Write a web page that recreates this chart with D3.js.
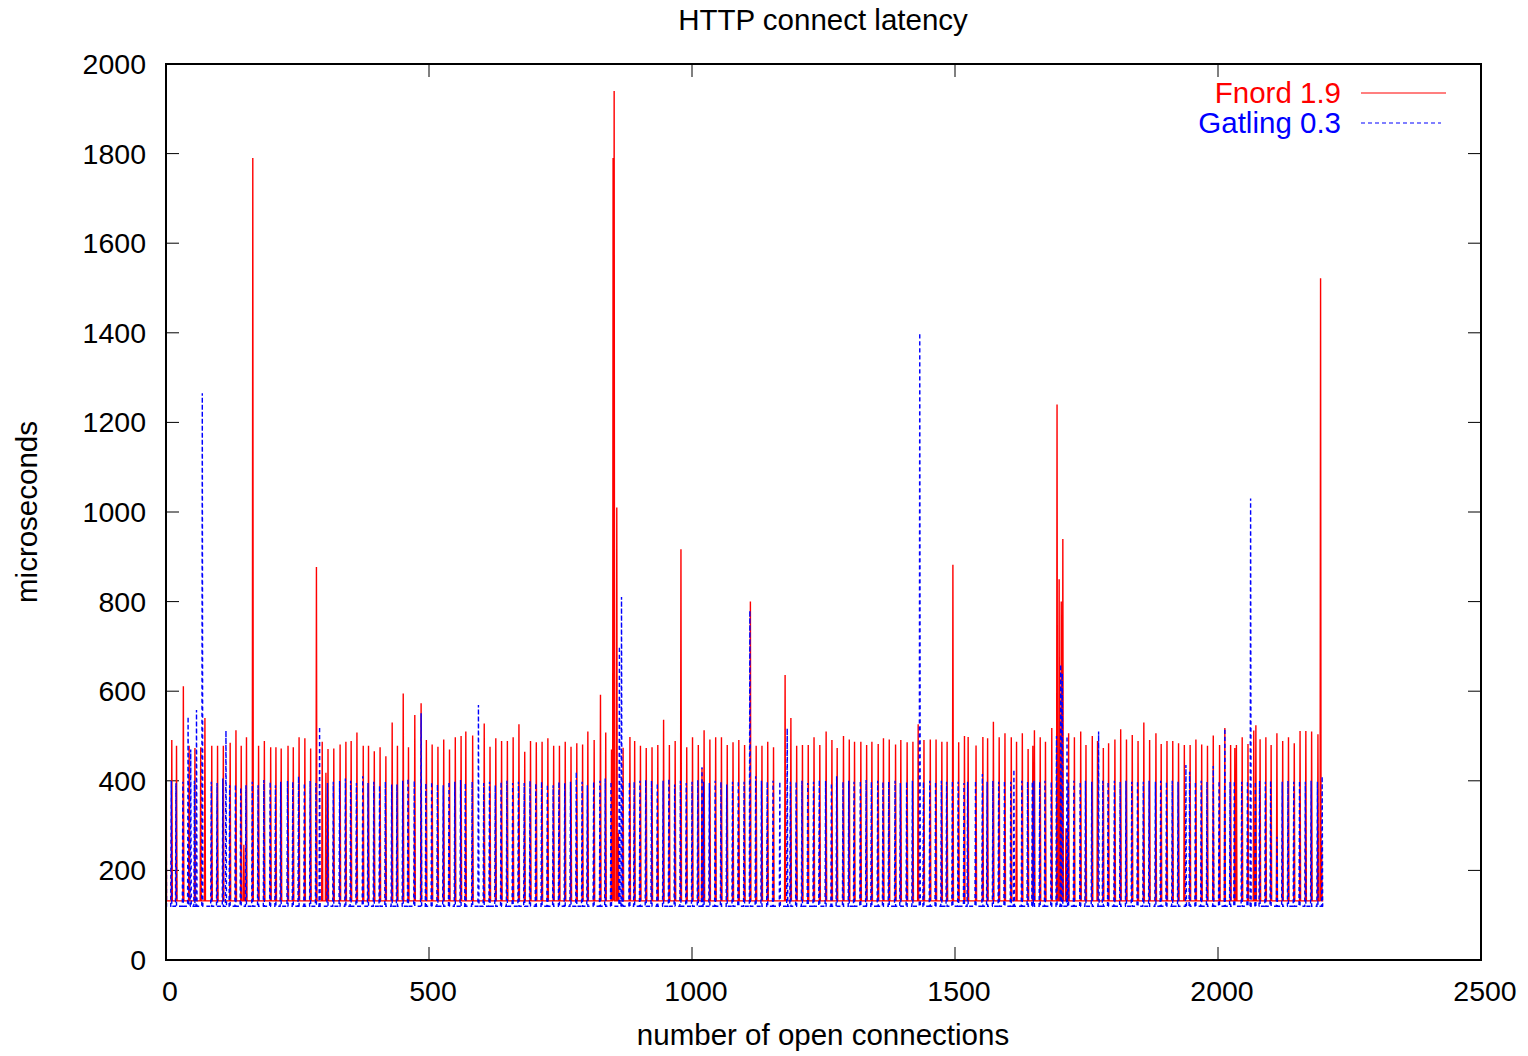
<!DOCTYPE html>
<html>
<head>
<meta charset="utf-8">
<script src="https://cdn.jsdelivr.net/npm/d3@7"></script>
<style>
    body { margin: 0; background: #fff; }
    text { font-family: "Liberation Sans", Arial, sans-serif; fill: #000; }
</style>
</head>
<body>
<div id="chart"></div>
<script>
// Tick values
const xTicks = [0, 500, 1000, 1500, 2000, 2500];
const yTicks = [0, 200, 400, 600, 800, 1000, 1200, 1400, 1600, 1800, 2000];

// Series names
const seriesNames = ["Fnord 1.9", "Gatling 0.3"];

// Floor level of each series (microseconds)
const fnordBase = 132;
const gatlingBase = 120;

// Fnord 1.9 spikes: open connections / peak latency
const fnordX = [0, 11, 20, 33, 44, 55, 66, 74, 87, 98, 109, 122, 133, 143, 148, 153, 165, 176, 187, 199, 209,
    219, 232, 242, 253, 264, 275, 286, 297, 304, 308, 319, 331, 342, 352, 363, 375, 385, 396, 407, 418, 430,
    440, 451, 461, 473, 485, 495, 506, 517, 528, 539, 550, 561, 570, 583, 605, 616, 627, 638, 649, 660,
    671, 682, 693, 704, 715, 726, 737, 748, 759, 770, 781, 792, 802, 814, 826, 836, 847, 850, 852, 857, 860, 869, 882,
    891, 902, 913, 924, 935, 946, 957, 968, 979, 990, 1001, 1012, 1019, 1023, 1034, 1045, 1056, 1067, 1078, 1089, 1100,
    1111, 1122, 1133, 1144, 1155, 1177, 1188, 1199, 1210, 1221, 1232, 1243, 1255, 1266, 1276, 1288, 1299, 1309, 1321, 1332,
    1342, 1354, 1364, 1375, 1387, 1397, 1409, 1420, 1430, 1441, 1453, 1464, 1475, 1485, 1496, 1507, 1518, 1525, 1540, 1553,
    1562, 1573, 1584, 1595, 1607, 1617, 1628, 1639, 1648, 1651, 1662, 1672, 1684, 1694, 1698, 1702, 1705, 1711, 1716, 1727, 1739, 1749, 1761, 1771, 1782,
    1792, 1804, 1815, 1826, 1837, 1848, 1859, 1870, 1882, 1892, 1903, 1914, 1925, 1936, 1947, 1958, 1969, 1980, 1991, 2003,
    2013, 2024, 2032, 2035, 2046, 2057, 2068, 2072, 2080, 2091, 2101, 2112, 2123, 2134, 2145, 2156, 2167, 2178, 2190, 2195, 2197];
const fnordPeak = [804, 491, 478, 611, 478, 473, 475, 540, 478, 478, 478, 485, 513, 478, 257, 497, 1790, 478, 489, 475, 475,
    472, 478, 475, 497, 495, 472, 877, 487, 418, 471, 472, 481, 487, 489, 508, 478, 478, 466, 475, 455, 530,
    478, 595, 475, 547, 573, 491, 481, 476, 492, 470, 497, 500, 510, 501, 528, 476, 495, 489, 489, 497,
    526, 465, 489, 486, 487, 495, 478, 478, 487, 476, 484, 481, 510, 491, 592, 508, 470, 1790, 1940, 1010, 283, 474, 498,
    489, 478, 473, 475, 480, 536, 480, 489, 917, 475, 497, 480, 428, 513, 492, 497, 497, 480, 486, 491, 480,
    800, 478, 478, 487, 475, 636, 540, 478, 480, 480, 497, 480, 510, 491, 473, 500, 492, 487, 487, 480,
    487, 482, 495, 492, 481, 491, 486, 487, 526, 491, 492, 492, 487, 487, 882, 486, 500, 498, 479, 498,
    495, 532, 497, 506, 497, 487, 506, 471, 478, 513, 497, 487, 518, 1240, 850, 800, 940, 294, 506, 497, 510, 480, 500, 489, 473,
    484, 492, 515, 492, 502, 489, 530, 491, 506, 482, 489, 489, 484, 480, 480, 492, 481, 478, 501, 480,
    518, 480, 473, 480, 497, 482, 512, 524, 493, 497, 480, 506, 489, 497, 484, 511, 511, 510, 504, 1522, 257];

// Gatling 0.3 spikes: open connections / peak latency
const gatlingX = [0, 10, 19, 32, 42, 47, 54, 58, 69, 86, 97, 108, 114, 121, 132, 142, 152, 164, 175, 186, 198, 208,
    218, 231, 241, 252, 263, 274, 285, 292, 307, 318, 330, 341, 351, 362, 374, 384, 395, 406, 417, 429,
    439, 450, 460, 472, 485, 494, 505, 516, 527, 538, 549, 560, 569, 582, 594, 604, 615, 626, 637, 648, 659,
    670, 681, 692, 703, 714, 725, 736, 747, 758, 769, 780, 791, 801, 813, 825, 835, 846, 862, 866, 868, 881,
    890, 901, 912, 923, 934, 945, 956, 967, 978, 989, 1000, 1011, 1019, 1022, 1033, 1044, 1055, 1066, 1077, 1088, 1099,
    1110, 1121, 1132, 1143, 1154, 1167, 1181, 1187, 1198, 1209, 1220, 1231, 1242, 1254, 1265, 1275, 1287, 1298, 1308, 1320, 1331,
    1341, 1353, 1363, 1374, 1386, 1396, 1408, 1419, 1433, 1440, 1452, 1463, 1474, 1484, 1495, 1506, 1517, 1524, 1539, 1552,
    1561, 1572, 1583, 1594, 1606, 1612, 1627, 1638, 1647, 1650, 1661, 1671, 1683, 1693, 1701, 1704, 1713, 1715, 1726, 1738, 1748, 1760, 1773, 1781,
    1791, 1803, 1814, 1825, 1836, 1847, 1858, 1869, 1881, 1891, 1902, 1913, 1924, 1939, 1946, 1957, 1968, 1979, 1991, 2002,
    2013, 2023, 2031, 2045, 2056, 2062, 2071, 2079, 2090, 2100, 2112, 2122, 2133, 2144, 2155, 2166, 2177, 2189, 2198];
const gatlingPeak = [440, 400, 395, 398, 543, 470, 400, 558, 1265, 398, 395, 405, 512, 390, 392, 385, 390, 398, 390, 402, 398, 390,
    398, 400, 398, 410, 395, 400, 395, 521, 395, 398, 400, 405, 400, 395, 410, 395, 398, 390, 398, 392,
    392, 400, 405, 400, 551, 395, 398, 392, 390, 398, 398, 402, 395, 398, 569, 395, 398, 390, 398, 400, 395,
    398, 395, 400, 395, 398, 392, 390, 398, 395, 398, 420, 398, 390, 398, 400, 405, 398, 700, 810, 400, 398,
    398, 400, 402, 400, 395, 400, 405, 392, 400, 395, 398, 402, 430, 398, 395, 400, 398, 392, 398, 400, 398,
    780, 410, 400, 398, 400, 398, 517, 398, 398, 400, 395, 398, 402, 400, 395, 410, 398, 400, 398, 400, 402,
    398, 400, 398, 398, 400, 395, 398, 400, 1400, 398, 400, 398, 400, 398, 400, 398, 395, 398, 400, 415,
    398, 400, 398, 400, 398, 425, 400, 398, 398, 400, 398, 400, 398, 500, 660, 640, 500, 398, 400, 398, 400, 398, 510, 400,
    398, 400, 398, 400, 398, 400, 398, 400, 398, 400, 398, 400, 398, 435, 420, 398, 400, 398, 433, 400,
    517, 398, 400, 398, 400, 1030, 398, 400, 398, 400, 275, 398, 400, 398, 400, 398, 400, 398, 410];

// Build spike path: floor before, peak, floor after
function spikeSeries(xs, peaks, base, lastX) {
    let pts = [];
    for (let i = 0; i < xs.length; i++) {
        if (xs[i] > 0) pts.push([xs[i] - 1, base]);
        pts.push([xs[i], peaks[i]]);
        pts.push([xs[i] + 1, base]);
    }
    pts.push([lastX, base]);
    return pts;
}

function createChart(container_width, container_height) {
    let svg = d3.select("#chart")
        .append("svg")
        .attr("width", container_width)
        .attr("height", container_height);

    let margin = { top: 64, left: 166, bottom: 96, right: 47 };
    let width = container_width - margin.left - margin.right;
    let height = container_height - margin.top - margin.bottom;

    let g = svg.append('g')
        .attr("transform", `translate(${margin.left}, ${margin.top})`);

    let xScale = d3.scaleLinear().domain([0, 2500]).range([0, width]);
    let yScale = d3.scaleLinear().domain([0, 2000]).range([height, 0]);

    g.append("defs")
        .append("clipPath")
        .attr("id", "clip")
        .append("rect")
        .attr("width", width)
        .attr("height", height);

    let line = d3.line()
        .x(d => xScale(d[0]))
        .y(d => yScale(d[1]));

    let numSize = "28.5px";
    let labelSize = "29.5px";

    /* Ticks (inside, mirrored) */
    let tickLen = 13;
    let axes = g.append('g').attr("stroke", "#000").attr("stroke-width", 1);
    xTicks.forEach(t => {
        axes.append("line").attr("x1", xScale(t)).attr("x2", xScale(t))
            .attr("y1", height).attr("y2", height - tickLen);
        axes.append("line").attr("x1", xScale(t)).attr("x2", xScale(t))
            .attr("y1", 0).attr("y2", tickLen);
    });
    yTicks.forEach(t => {
        axes.append("line").attr("x1", 0).attr("x2", tickLen)
            .attr("y1", yScale(t)).attr("y2", yScale(t));
        axes.append("line").attr("x1", width).attr("x2", width - tickLen)
            .attr("y1", yScale(t)).attr("y2", yScale(t));
    });

    g.selectAll(".xlab")
        .data(xTicks)
        .enter()
        .append("text")
        .attr('x', d => xScale(d) + 4)
        .attr('y', height + 41)
        .attr("text-anchor", "middle")
        .attr("font-size", numSize)
        .text(d => d);

    g.selectAll(".ylab")
        .data(yTicks)
        .enter()
        .append("text")
        .attr('x', -20)
        .attr('y', d => yScale(d))
        .attr("dy", "0.35em")
        .attr("text-anchor", "end")
        .attr("font-size", numSize)
        .text(d => d);

    /* Lines */
    let main = g.append('g').attr("clip-path", "url(#clip)");

    main.append("path")
        .datum(spikeSeries(fnordX, fnordPeak, fnordBase, 2200))
        .attr('d', line)
        .attr("fill", "none")
        .attr("stroke", "#ff0000")
        .attr("stroke-width", 1.4);

    main.append("path")
        .datum(spikeSeries(gatlingX, gatlingPeak, gatlingBase, 2200))
        .attr('d', line)
        .attr("fill", "none")
        .attr("stroke", "#0000ff")
        .attr("stroke-width", 1.4)
        .style("stroke-dasharray", "4, 3");

    /* Border */
    g.append("rect")
        .attr("width", width)
        .attr("height", height)
        .attr("fill", "none")
        .attr("stroke", "#000")
        .attr("stroke-width", 2);

    /* Legend */
    let legend = g.append('g');
    let legendColors = ["#ff0000", "#0000ff"];
    seriesNames.forEach((name, i) => {
        let y = 29 + i * 30;
        legend.append("text")
            .attr('x', 1175)
            .attr('y', y)
            .attr("dy", "0.35em")
            .attr("text-anchor", "end")
            .attr("font-size", labelSize)
            .style("fill", legendColors[i])
            .text(name);
        legend.append("line")
            .attr("x1", 1195).attr("x2", i ? 1275 : 1280)
            .attr("y1", y).attr("y2", y)
            .attr("stroke", legendColors[i])
            .attr("stroke-width", 1.2)
            .style("stroke-dasharray", i ? "4, 3" : null);
    });

    /* Titles */
    svg.append("text")
        .attr('x', 823)
        .attr('y', 20)
        .attr("dy", "0.35em")
        .attr("text-anchor", "middle")
        .attr("font-size", labelSize)
        .text("HTTP connect latency");

    svg.append("text")
        .attr('x', 823)
        .attr('y', 1035)
        .attr("dy", "0.35em")
        .attr("text-anchor", "middle")
        .attr("font-size", labelSize)
        .text("number of open connections");

    svg.append("text")
        .attr("transform", "rotate(-90)")
        .attr('x', -512)
        .attr('y', 27)
        .attr("dy", "0.35em")
        .attr("text-anchor", "middle")
        .attr("font-size", labelSize)
        .text("microseconds");
}

createChart(1528, 1056);
</script>
</body>
</html>
